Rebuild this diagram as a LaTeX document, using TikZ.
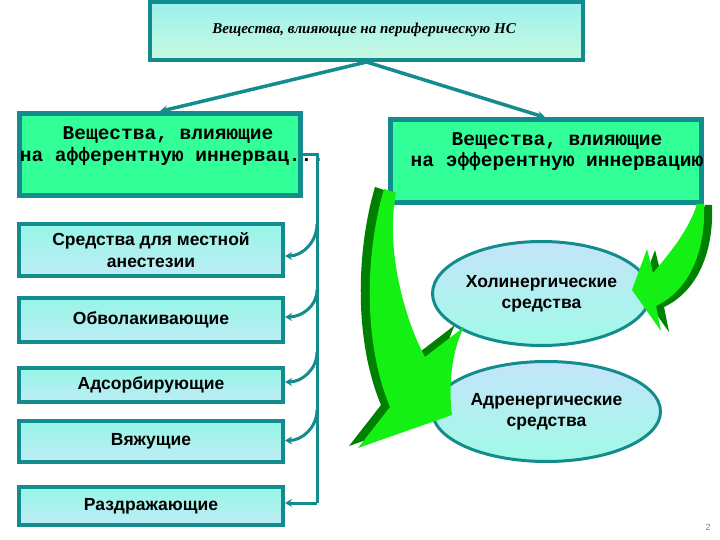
\documentclass[tikz,border=0pt]{standalone}
\usepackage{fontspec}
\setmainfont{Liberation Sans}
\newfontfamily\monofnt{Liberation Mono}
\newfontfamily\seriffnt{Liberation Serif}
\usetikzlibrary{shapes.geometric,arrows.meta}
\definecolor{tealc}{RGB}{18,140,140}
\definecolor{gboxc}{RGB}{51,255,153}
\definecolor{topA}{RGB}{155,240,236}
\definecolor{topB}{RGB}{200,250,225}
\definecolor{itA}{RGB}{150,246,230}
\definecolor{itB}{RGB}{190,236,246}
\definecolor{elA}{RGB}{196,228,250}
\definecolor{elB}{RGB}{160,250,230}
\definecolor{brightg}{RGB}{20,240,20}
\definecolor{darkg}{RGB}{0,128,0}
\tikzset{
  topbox/.style={draw=tealc, line width=4pt, top color=topA, bottom color=topB, inner sep=0pt},
  gbox/.style={draw=tealc, line width=5pt, fill=gboxc, inner sep=0pt},
  gtext/.style={font=\monofnt\bfseries\fontsize{19.5}{21}\selectfont, inner sep=0pt},
  itbox/.style={draw=tealc, line width=4pt, top color=itA, bottom color=itB, minimum width=264pt, inner sep=0pt, align=center, font=\bfseries\fontsize{17.5}{22}\selectfont},
  elbox/.style={ellipse, draw=tealc, line width=3pt, top color=elA, bottom color=elB, inner sep=0pt, align=center, font=\bfseries\fontsize{17.5}{21}\selectfont},
  conn/.style={draw=tealc, line width=3.5pt, -{Stealth[length=8pt,width=8pt]}},
  brk/.style={draw=tealc, line width=3pt},
  brkarr/.style={draw=tealc, line width=3pt, -{Stealth[length=7pt,width=8pt]}},
}
\begin{document}
\begin{tikzpicture}[x=1pt,y=-1pt]
\useasboundingbox (0,0) rectangle (720,540);
\fill[white] (0,0) rectangle (720,540);

% top box
\node[topbox, minimum width=433pt, minimum height=58pt] (top) at (366.5,31) {};
\node[font=\seriffnt\bfseries\itshape\fontsize{15}{18}\selectfont, inner sep=0pt] (toptext) at (364,30) {Вещества, влияющие на периферическую НС};

% green boxes
\node[gbox, minimum width=281pt, minimum height=82pt] (aff) at (159.5,155) {};
\node[gtext] (afft1) at (168,135) {Вещества, влияющие};
\node[gtext] (afft2) at (172,156) {на афферентную иннервац...};
\node[gbox, minimum width=311pt, minimum height=83pt] (eff) at (545.5,161.5) {};
\node[gtext, align=center] (efft) at (557,152) {Вещества, влияющие\\на эфферентную иннервацию};

% chevron connectors
\draw[conn] (top.south) -- (aff.north);
\draw[conn] (top.south) -- (eff.north);

% left items
\node[itbox, minimum height=52pt] (it1) at (151,250) {Средства для местной\\анестезии};
\node[itbox, minimum height=44pt] (it2) at (151,320) {Обволакивающие};
\node[itbox, minimum height=34pt] (it3) at (151,385) {Адсорбирующие};
\node[itbox, minimum height=41pt] (it4) at (151,441.5) {Вяжущие};
\node[itbox, minimum height=38pt] (it5) at (151,506) {Раздражающие};

% bracket
\coordinate (bt) at (317,155);
\coordinate (bb) at (317,503);
\coordinate (b1) at (317,224);
\coordinate (b2) at (317,290);
\coordinate (b3) at (317,352);
\coordinate (b4) at (317,410);
\draw[brk] (aff.east) -- (bt) -- (bb);
\draw[brkarr] (bb) -- (bb -| it5.east);
\draw[brkarr] (b1) to[out=-90,in=0] ([yshift=-6pt]it1.east);
\draw[brkarr] (b2) to[out=-90,in=0] ([yshift=3pt]it2.east);
\draw[brkarr] (b3) to[out=-90,in=0] ([yshift=3pt]it3.east);
\draw[brkarr] (b4) to[out=-90,in=0] ([yshift=1pt]it4.east);

% ellipses
\node[elbox, minimum width=218pt, minimum height=104pt] (chol) at (541.5,293.5) {Холинергические\\средства};
\node[elbox, minimum width=228pt, minimum height=100pt] (adr) at (546.5,411.5) {Адренергические\\средства};

% big green curved arrow
\begin{scope}[shift={(-9,-2)}]
\fill[darkg] (384,189) .. controls (366,250) and (362,340) .. (390,407) -- (358,448) -- (452,415)
  .. controls (448,385) and (452,350) .. (464,327) -- (425,357)
  .. controls (405,320) and (385,250) .. (396,193) -- cycle;
\end{scope}
\fill[brightg] (384,189) .. controls (366,250) and (362,340) .. (390,407) -- (358,448) -- (452,415)
  .. controls (448,385) and (452,350) .. (464,327) -- (425,357)
  .. controls (405,320) and (385,250) .. (396,193) -- cycle;

% small green curved arrow
\begin{scope}[shift={(8,1)}]
\fill[darkg] (697,204) -- (704,204) .. controls (706,250) and (690,290) .. (656,306) -- (661,331) -- (632,290) -- (647,249) -- (653,273)
  .. controls (668,255) and (688,232) .. (697,204) -- cycle;
\end{scope}
\fill[brightg] (697,204) -- (704,204) .. controls (706,250) and (690,290) .. (656,306) -- (661,331) -- (632,290) -- (647,249) -- (653,273)
  .. controls (668,255) and (688,232) .. (697,204) -- cycle;

% page number
\node[font=\fontsize{9}{10}\selectfont, text=gray, inner sep=0pt] (pg) at (708,527) {2};
\end{tikzpicture}
\end{document}
